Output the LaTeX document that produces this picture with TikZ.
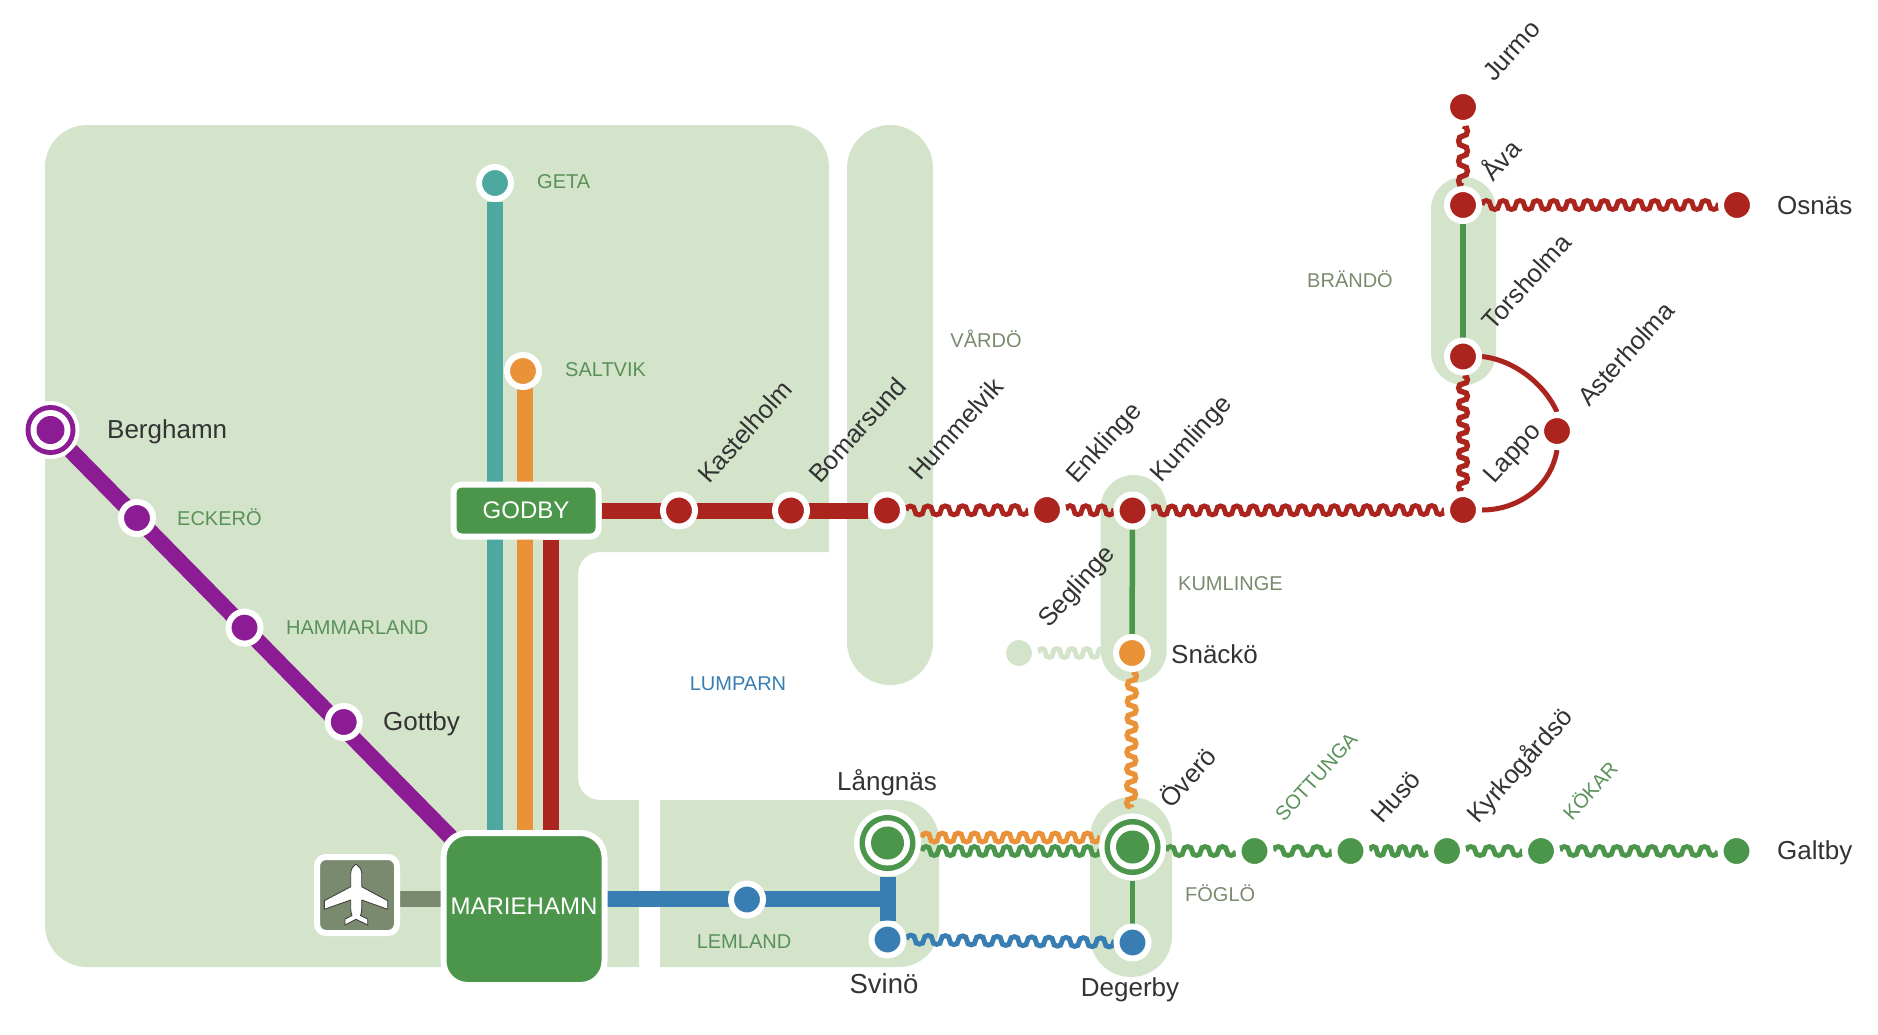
\documentclass[tikz,border=0pt]{standalone}
\usepackage{fontspec}
\setmainfont{Liberation Sans}
\usetikzlibrary{decorations,calc}
\pgfdeclarelayer{land}
\pgfdeclarelayer{lines}
\pgfsetlayers{land,lines,main}
\definecolor{landc}{HTML}{D3E4CB}
\definecolor{grn}{HTML}{4B964B}
\definecolor{redc}{HTML}{AC241E}
\definecolor{org}{HTML}{E99238}
\definecolor{teal2}{HTML}{4DA9A0}
\definecolor{blu}{HTML}{387EB3}
\definecolor{pur}{HTML}{8C1C94}
\definecolor{gry}{HTML}{7A8A6E}
\definecolor{txt}{HTML}{333333}
\definecolor{lblg}{HTML}{5A9158}
\pgfdeclaredecoration{meander}{initial}{
  \state{initial}[width=0pt,next state=run,
    persistent precomputation={%
      \pgfmathsetmacro\wN{max(1,round(\pgfdecoratedpathlength/\pgfdecorationsegmentlength))}%
      \pgfmathsetlengthmacro\wP{\pgfdecoratedpathlength/\wN}%
      \pgfmathsetlengthmacro\wA{1.33*\pgfdecorationsegmentamplitude}}]{}
  \state{run}[switch if less than=0.5*\wP to final,width=\wP]{
    \pgfpathcurveto{\pgfpoint{-0.04*\wP}{\wA}}{\pgfpoint{0.54*\wP}{\wA}}{\pgfpoint{0.5*\wP}{0pt}}
    \pgfpathcurveto{\pgfpoint{0.46*\wP}{-\wA}}{\pgfpoint{1.04*\wP}{-\wA}}{\pgfpoint{\wP}{0pt}}
  }
  \state{final}{\pgfpathlineto{\pgfpointdecoratedpathlast}}
}
\tikzset{
  x=1pt,y=-1pt,
  stn/.style={circle,draw=white,line width=6pt,minimum size=32pt,inner sep=0pt,fill=#1},
  ringbase/.style={circle,fill=white,inner sep=0pt,outer sep=0pt,minimum size=#1},
  boxnode/.style={draw=white,line width=6pt,fill=grn,inner sep=0pt,text=white,font=\fontsize{24}{24}\selectfont},
  name label/.style={text=txt,inner sep=0pt,font=\fontsize{26}{26}\selectfont},
  rname/.style={text=txt,inner sep=0pt,font=\fontsize{25.6}{26}\selectfont,rotate=48,anchor=base west},
  area/.style={text=lblg,inner sep=0pt,font=\fontsize{20}{20}\selectfont},
  areag/.style={area,text=gry},
  thick line/.style={line width=16pt,#1},
  thin line/.style={line width=5.5pt,grn},
  arcline/.style={line width=5pt,redc},
  wave/.style={line width=5pt,#1,decorate,decoration={meander,segment length=16.6pt,amplitude=4.4pt}},
  waveb/.style={line width=5.4pt,#1,decorate,decoration={meander,segment length=17.6pt,amplitude=4.4pt}},
}
\begin{document}
\begin{tikzpicture}
\useasboundingbox (0,0) rectangle (1878,1034);
\begin{pgfonlayer}{land}
\fill[landc] [rounded corners=42pt] (45,500) -- (45,125) -- (829,125) [sharp corners] -- (829,552)
  [rounded corners=22pt] -- (578,552) -- (578,800) [sharp corners] -- (639,800) -- (639,967)
  [rounded corners=42pt] -- (45,967) -- cycle;
\fill[landc] (660,800) [rounded corners=40pt] -- (939,800) -- (939,967) [sharp corners] -- (660,967) -- cycle;
\fill[landc,rounded corners=42.9pt] (847,125) rectangle (933,685);
\fill[landc,rounded corners=32.9pt] (1100.7,475) rectangle (1166.7,683);
\fill[landc,rounded corners=32.4pt] (1431,177) rectangle (1496,385);
\fill[landc,rounded corners=40.9pt] (1090,797) rectangle (1172,977);
\end{pgfonlayer}

% boxes
\node[boxnode,minimum width=161pt,minimum height=152pt,rounded corners=24pt] (mari) at (524,909) {\raisebox{6.5pt}{MARIEHAMN}};
\node[boxnode,minimum width=145pt,minimum height=52pt,rounded corners=8pt] (godby) at (526,510.5) {GODBY};
\node[draw=white,line width=6pt,fill=gry,inner sep=0pt,minimum width=80pt,minimum height=76pt,rounded corners=9pt] (air) at (357,895) {};
\draw[white,fill=white,draw=black!75,line width=0.9pt,line join=round]
  (356,864) .. controls (353,866) and (351,869) .. (350.7,873) -- (350.7,886.7) -- (324.3,900.7) -- (324.3,909.3)
  -- (350.7,900) -- (350.7,909) .. controls (351,913) and (351.5,914) .. (352,915.5) -- (345,919) -- (345,925) -- (356,919.3)
  -- (367.7,925) -- (367.7,919) -- (360.5,915.5) .. controls (361,914) and (361.5,913) .. (361.7,909) -- (361.7,900)
  -- (387.7,909.3) -- (387.7,900.7) -- (361.7,886.7) -- (361.7,873) .. controls (361.5,869) and (359,866) .. (356,864) -- cycle;

% stations
\node[ringbase=58pt] (berg) at (50.5,430) {};
\fill[pur] (berg) circle (25); \fill[white] (berg) circle (20); \fill[pur] (berg) circle (14);
\node[ringbase=67pt] (lang) at (887.5,843) {};
\fill[grn] (lang) circle (28); \fill[white] (lang) circle (22.5); \fill[grn] (lang) circle (16.5);
\node[ringbase=67pt] (over) at (1132.5,847) {};
\fill[grn] (over) circle (28); \fill[white] (over) circle (22.5); \fill[grn] (over) circle (16.5);

\node[stn=teal2] (geta) at (495,183) {};
\node[stn=org] (salt) at (523,371) {};
\node[stn=pur] (ecke) at (137,518) {};
\node[stn=pur] (hamm) at (244.5,627.6) {};
\node[stn=pur] (gott) at (343.7,722) {};
\node[stn=redc] (kast) at (679,510.5) {};
\node[stn=redc] (boma) at (791,510.5) {};
\node[stn=redc] (humm) at (887,510.5) {};
\node[stn=redc] (enkl) at (1047,510) {};
\node[stn=redc] (kuml) at (1132.5,510.5) {};
\node[stn=org] (snac) at (1132,653) {};
\node[stn=landc] (segl) at (1019,653) {};
\node[stn=blu] (lemn) at (747,899.5) {};
\node[stn=blu] (svin) at (887.5,939.5) {};
\node[stn=blu] (dege) at (1132.5,942.5) {};
\node[stn=grn] (sott) at (1254.5,851) {};
\node[stn=grn] (huso) at (1350.5,851) {};
\node[stn=grn] (kyrk) at (1447,851) {};
\node[stn=grn] (koka) at (1541,851) {};
\node[stn=grn] (galt) at (1736.5,851) {};
\node[stn=redc] (jurm) at (1463,107) {};
\node[stn=redc] (ava) at (1463,205) {};
\node[stn=redc] (osna) at (1737,205) {};
\node[stn=redc] (tors) at (1463,356.5) {};
\node[stn=redc] (aste) at (1557,431) {};
\node[stn=redc] (lapp) at (1463,510) {};

% free ends
\coordinate (so) at (525,371);
\coordinate (rv) at (551,540);
\coordinate (ga) at (399,899);
\coordinate (bs) at (607,899);
\coordinate (bt) at (887.5,899);
\coordinate (lo) at (922,837.5);
\coordinate (lg) at (922,851);
\coordinate (oo) at (1099.5,837.5);
\coordinate (og) at (1099.5,851);
\coordinate (ot) at (1131,807);
\coordinate (pe) at (475,862);

\begin{pgfonlayer}{lines}
\draw[thick line=pur] (berg) -- (pe);
\draw[thick line=teal2] (geta) -- (geta |- mari.north);
\draw[thick line=org] (so) -- (so |- mari.north);
\draw[thick line=redc] (rv) -- (rv |- mari.north);
\draw[thick line=redc] (godby.east) -- (humm.west);
\draw[thick line=gry] (ga) -- (ga -| mari.west);
\draw[thick line=blu] (bs) -- (bt);
\draw[thick line=blu] (lang) -- (svin);
\draw[thin line] (kuml) -- (snac);
\draw[thin line] (over) -- (dege);
\draw[thin line] (ava) -- (tors);
\draw[wave=redc] (humm.east) -- (enkl.west);
\draw[wave=redc] (enkl.east) -- (kuml.west);
\draw[wave=redc] (kuml.east) -- (lapp.west);
\draw[waveb=redc] (lapp.north) -- (tors.south);
\draw[waveb=redc] (ava.north) -- (jurm.south);
\draw[wave=redc] (ava.east) -- (osna.west);
\draw[wave=landc] (segl.east) -- (snac.west);
\draw[waveb=org] (snac.south) -- (ot);
\draw[wave=org] (lo) -- (oo);
\draw[wave=grn] (lg) -- (og);
\draw[wave=blu] (svin.east) -- (dege.west);
\draw[wave=grn] (over.east |- sott) -- (sott.west);
\draw[wave=grn] (sott.east) -- (huso.west);
\draw[wave=grn] (huso.east) -- (kyrk.west);
\draw[wave=grn] (kyrk.east) -- (koka.west);
\draw[wave=grn] (koka.east) -- (galt.west);
\draw[arcline] (tors.east) .. controls (1515,360) and (1545,385) .. (aste.north);
\draw[arcline] (aste.south) .. controls (1550,490) and (1515,510) .. (lapp.east);
\end{pgfonlayer}

% station names
\node[name label,anchor=west] (lberg) at (107,432) {Berghamn};
\node[name label,anchor=west] (lgott) at (383,724) {Gottby};
\node[name label,anchor=west] (lsnac) at (1171,654) {Snäckö};
\node[name label,anchor=west] (losna) at (1777,206) {Osnäs};
\node[name label,anchor=west] (lgalt) at (1777,853) {Galtby};
\node[name label] (llang) at (887,783) {Långnäs};
\node[name label,font=\fontsize{27.5}{28}\selectfont] (lsvin) at (884,984) {Svinö};
\node[name label] (ldege) at (1130,990) {Degerby};
\node[rname] (lkast) at (709,485) {Kastelholm};
\node[rname] (lboma) at (820,485) {Bomarsund};
\node[rname] (lhumm) at (920,482) {Hummelvik};
\node[rname] (lenkl) at (1077,485) {Enklinge};
\node[rname] (lkuml) at (1161,484) {Kumlinge};
\node[rname] (lsegl) at (1049,629) {Seglinge};
\node[rname] (ljurm) at (1494,83) {Jurmo};
\node[rname] (lava) at (1493,183) {Åva};
\node[rname] (ltors) at (1493.5,332) {Torsholma};
\node[rname] (laste) at (1589,408) {Asterholma};
\node[rname] (llapp) at (1494,485) {Lappo};
\node[rname] (lover) at (1171,810) {Överö};
\node[rname] (lhuso) at (1382,825) {Husö};
\node[rname] (lkyrk) at (1478,825) {Kyrkogårdsö};

% area names
\node[area,anchor=west] (ageta) at (537,182) {GETA};
\node[area,anchor=west] (asalt) at (565,370) {SALTVIK};
\node[area,anchor=west] (aecke) at (177,517.5) {ECKERÖ};
\node[area,anchor=west] (ahamm) at (286,628) {HAMMARLAND};
\node[area] (alemn) at (744,941.7) {LEMLAND};
\node[area,text=blu] (alump) at (738,684) {LUMPARN};
\node[areag] (avard) at (986,339) {VÅRDÖ};
\node[areag] (abran) at (1350,279) {BRÄNDÖ};
\node[areag,anchor=west] (akuml) at (1178,584) {KUMLINGE};
\node[areag,anchor=west] (afogl) at (1185,893) {FÖGLÖ};
\node[area,rotate=48,anchor=base west] (asott) at (1284,823) {SOTTUNGA};
\node[area,rotate=48,anchor=base west] (akoka) at (1572,822) {KÖKAR};
\end{tikzpicture}
\end{document}
